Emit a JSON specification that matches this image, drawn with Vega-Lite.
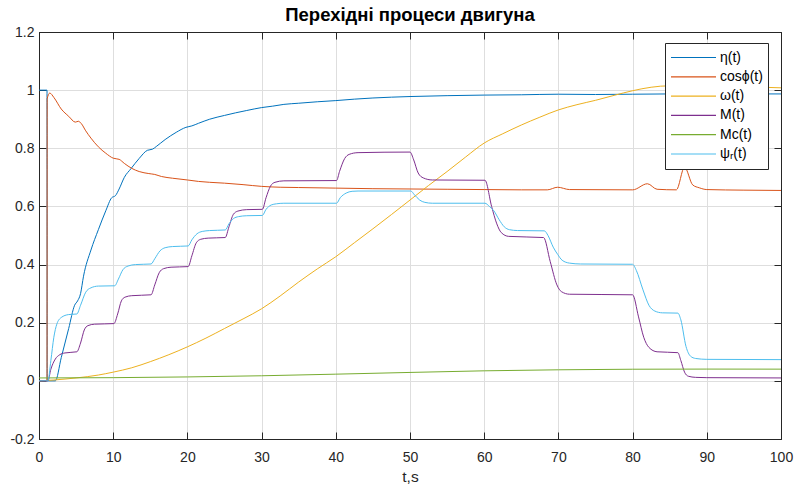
{
  "$schema": "https://vega.github.io/schema/vega-lite/v6.json",
  "width": 742,
  "height": 407,
  "autosize": {"type": "none"},
  "padding": {"left": 39, "top": 32, "right": 14, "bottom": 49},
  "background": "white",
  "title": {"text": "Перехідні процеси двигуна", "font": "Liberation Sans", "fontSize": 18.5, "fontWeight": "bold", "color": "#000000", "offset": 1, "anchor": "middle", "frame": "group"},
  "config": {
    "view": {"stroke": "#262626", "strokeWidth": 1},
    "axis": {"labelFont": "Liberation Sans", "labelFontSize": 14, "labelColor": "#262626", "titleFont": "Liberation Sans", "titleFontSize": 15.5, "titleFontWeight": "normal", "titleColor": "#262626", "domainColor": "#262626", "tickColor": "#262626", "gridColor": "#dedede", "gridWidth": 1, "labelFlush": false, "labelOverlap": false}
  },
  "datasets": {
    "d": [
      {"s":"η(t)","t":0,"v":1},{"s":"η(t)","t":1.08,"v":1},{"s":"η(t)","t":1.1,"v":0},{"s":"η(t)","t":2.2,"v":0},{"s":"η(t)","t":3,"v":0.08},{"s":"η(t)","t":4,"v":0.18},{"s":"η(t)","t":4.8,"v":0.26},{"s":"η(t)","t":5.2,"v":0.275},{"s":"η(t)","t":5.6,"v":0.3},{"s":"η(t)","t":6,"v":0.36},{"s":"η(t)","t":7,"v":0.45},{"s":"η(t)","t":8,"v":0.52},{"s":"η(t)","t":9,"v":0.585},{"s":"η(t)","t":9.8,"v":0.63},{"s":"η(t)","t":10.3,"v":0.637},{"s":"η(t)","t":10.8,"v":0.66},{"s":"η(t)","t":11.5,"v":0.7},{"s":"η(t)","t":12.4,"v":0.73},{"s":"η(t)","t":13.5,"v":0.765},{"s":"η(t)","t":14.6,"v":0.793},{"s":"η(t)","t":15.3,"v":0.797},{"s":"η(t)","t":15.8,"v":0.806},{"s":"η(t)","t":17,"v":0.83},{"s":"η(t)","t":18.5,"v":0.855},{"s":"η(t)","t":19.8,"v":0.872},{"s":"η(t)","t":20.6,"v":0.877},{"s":"η(t)","t":21.5,"v":0.886},{"s":"η(t)","t":23,"v":0.9},{"s":"η(t)","t":25,"v":0.913},{"s":"η(t)","t":26.5,"v":0.922},{"s":"η(t)","t":28,"v":0.93},{"s":"η(t)","t":30,"v":0.94},{"s":"η(t)","t":31.5,"v":0.945},{"s":"η(t)","t":33,"v":0.951},{"s":"η(t)","t":35,"v":0.955},{"s":"η(t)","t":37.5,"v":0.96},{"s":"η(t)","t":40,"v":0.964},{"s":"η(t)","t":42.5,"v":0.969},{"s":"η(t)","t":45,"v":0.973},{"s":"η(t)","t":50,"v":0.978},{"s":"η(t)","t":55,"v":0.981},{"s":"η(t)","t":60,"v":0.983},{"s":"η(t)","t":65,"v":0.984},{"s":"η(t)","t":70,"v":0.986},{"s":"η(t)","t":75,"v":0.985},{"s":"η(t)","t":80,"v":0.986},{"s":"η(t)","t":85,"v":0.987},{"s":"η(t)","t":90,"v":0.988},{"s":"η(t)","t":95,"v":0.987},{"s":"η(t)","t":100,"v":0.987},

      {"s":"cosϕ(t)","t":0,"v":0},{"s":"cosϕ(t)","t":1.08,"v":0},{"s":"cosϕ(t)","t":1.1,"v":0.97},{"s":"cosϕ(t)","t":1.45,"v":0.99},{"s":"cosϕ(t)","t":2,"v":0.975},{"s":"cosϕ(t)","t":3,"v":0.935},{"s":"cosϕ(t)","t":4,"v":0.91},{"s":"cosϕ(t)","t":4.9,"v":0.89},{"s":"cosϕ(t)","t":5.3,"v":0.893},{"s":"cosϕ(t)","t":5.7,"v":0.885},{"s":"cosϕ(t)","t":6.3,"v":0.86},{"s":"cosϕ(t)","t":7,"v":0.835},{"s":"cosϕ(t)","t":8,"v":0.805},{"s":"cosϕ(t)","t":9,"v":0.783},{"s":"cosϕ(t)","t":10,"v":0.766},{"s":"cosϕ(t)","t":10.8,"v":0.762},{"s":"cosϕ(t)","t":11.5,"v":0.748},{"s":"cosϕ(t)","t":12.5,"v":0.731},{"s":"cosϕ(t)","t":13.5,"v":0.72},{"s":"cosϕ(t)","t":14.8,"v":0.713},{"s":"cosϕ(t)","t":15.6,"v":0.71},{"s":"cosϕ(t)","t":16.5,"v":0.703},{"s":"cosϕ(t)","t":18,"v":0.697},{"s":"cosϕ(t)","t":20,"v":0.691},{"s":"cosϕ(t)","t":21.5,"v":0.686},{"s":"cosϕ(t)","t":23,"v":0.683},{"s":"cosϕ(t)","t":25,"v":0.68},{"s":"cosϕ(t)","t":27.5,"v":0.675},{"s":"cosϕ(t)","t":30,"v":0.669},{"s":"cosϕ(t)","t":32.5,"v":0.666},{"s":"cosϕ(t)","t":35,"v":0.665},{"s":"cosϕ(t)","t":40,"v":0.663},{"s":"cosϕ(t)","t":45,"v":0.661},{"s":"cosϕ(t)","t":50,"v":0.66},{"s":"cosϕ(t)","t":55,"v":0.659},{"s":"cosϕ(t)","t":60,"v":0.658},{"s":"cosϕ(t)","t":65,"v":0.657},{"s":"cosϕ(t)","t":68.5,"v":0.657},{"s":"cosϕ(t)","t":69.9,"v":0.666},{"s":"cosϕ(t)","t":71.5,"v":0.658},{"s":"cosϕ(t)","t":80,"v":0.657},{"s":"cosϕ(t)","t":82,"v":0.678},{"s":"cosϕ(t)","t":83.3,"v":0.659},{"s":"cosϕ(t)","t":85.9,"v":0.657},{"s":"cosϕ(t)","t":87,"v":0.735},{"s":"cosϕ(t)","t":88.1,"v":0.674},{"s":"cosϕ(t)","t":89,"v":0.664},{"s":"cosϕ(t)","t":90,"v":0.658},{"s":"cosϕ(t)","t":95,"v":0.656},{"s":"cosϕ(t)","t":100,"v":0.655},

      {"s":"ω(t)","t":0,"v":0},{"s":"ω(t)","t":2,"v":0.003},{"s":"ω(t)","t":5,"v":0.01},{"s":"ω(t)","t":8,"v":0.02},{"s":"ω(t)","t":10,"v":0.03},{"s":"ω(t)","t":12.5,"v":0.045},{"s":"ω(t)","t":15,"v":0.066},{"s":"ω(t)","t":17.5,"v":0.09},{"s":"ω(t)","t":20,"v":0.117},{"s":"ω(t)","t":22.5,"v":0.147},{"s":"ω(t)","t":25,"v":0.18},{"s":"ω(t)","t":27.5,"v":0.213},{"s":"ω(t)","t":30,"v":0.248},{"s":"ω(t)","t":32.5,"v":0.292},{"s":"ω(t)","t":35,"v":0.34},{"s":"ω(t)","t":37.5,"v":0.385},{"s":"ω(t)","t":40,"v":0.427},{"s":"ω(t)","t":42.5,"v":0.475},{"s":"ω(t)","t":45,"v":0.523},{"s":"ω(t)","t":47.5,"v":0.572},{"s":"ω(t)","t":50,"v":0.622},{"s":"ω(t)","t":52.5,"v":0.672},{"s":"ω(t)","t":55,"v":0.72},{"s":"ω(t)","t":57.5,"v":0.77},{"s":"ω(t)","t":60,"v":0.818},{"s":"ω(t)","t":62.5,"v":0.85},{"s":"ω(t)","t":65,"v":0.88},{"s":"ω(t)","t":67.5,"v":0.907},{"s":"ω(t)","t":70,"v":0.932},{"s":"ω(t)","t":72.5,"v":0.95},{"s":"ω(t)","t":75,"v":0.965},{"s":"ω(t)","t":77.5,"v":0.982},{"s":"ω(t)","t":80,"v":0.998},{"s":"ω(t)","t":82.5,"v":1.01},{"s":"ω(t)","t":85,"v":1.015},{"s":"ω(t)","t":90,"v":1.015},{"s":"ω(t)","t":95,"v":1.012},{"s":"ω(t)","t":100,"v":1.008},

      {"s":"M(t)","t":0,"v":0},{"s":"M(t)","t":1.2,"v":0},{"s":"M(t)","t":1.6,"v":0.04},{"s":"M(t)","t":2.2,"v":0.075},{"s":"M(t)","t":2.8,"v":0.09},{"s":"M(t)","t":3.5,"v":0.096},{"s":"M(t)","t":5.1,"v":0.1},{"s":"M(t)","t":5.6,"v":0.13},{"s":"M(t)","t":6.1,"v":0.175},{"s":"M(t)","t":6.6,"v":0.19},{"s":"M(t)","t":7.5,"v":0.195},{"s":"M(t)","t":10.1,"v":0.197},{"s":"M(t)","t":10.6,"v":0.23},{"s":"M(t)","t":11.1,"v":0.275},{"s":"M(t)","t":11.6,"v":0.288},{"s":"M(t)","t":12.5,"v":0.293},{"s":"M(t)","t":15.1,"v":0.296},{"s":"M(t)","t":15.6,"v":0.33},{"s":"M(t)","t":16.2,"v":0.372},{"s":"M(t)","t":16.8,"v":0.386},{"s":"M(t)","t":17.8,"v":0.391},{"s":"M(t)","t":20.1,"v":0.393},{"s":"M(t)","t":20.6,"v":0.43},{"s":"M(t)","t":21.2,"v":0.475},{"s":"M(t)","t":21.8,"v":0.487},{"s":"M(t)","t":22.8,"v":0.491},{"s":"M(t)","t":25.1,"v":0.493},{"s":"M(t)","t":25.6,"v":0.53},{"s":"M(t)","t":26.2,"v":0.573},{"s":"M(t)","t":26.8,"v":0.584},{"s":"M(t)","t":28,"v":0.589},{"s":"M(t)","t":30.1,"v":0.59},{"s":"M(t)","t":30.6,"v":0.63},{"s":"M(t)","t":31.2,"v":0.67},{"s":"M(t)","t":31.8,"v":0.683},{"s":"M(t)","t":33,"v":0.688},{"s":"M(t)","t":40.1,"v":0.689},{"s":"M(t)","t":40.5,"v":0.72},{"s":"M(t)","t":41.2,"v":0.765},{"s":"M(t)","t":41.8,"v":0.779},{"s":"M(t)","t":43,"v":0.785},{"s":"M(t)","t":50,"v":0.787},{"s":"M(t)","t":50.5,"v":0.76},{"s":"M(t)","t":51.1,"v":0.715},{"s":"M(t)","t":51.8,"v":0.698},{"s":"M(t)","t":53,"v":0.691},{"s":"M(t)","t":60.1,"v":0.69},{"s":"M(t)","t":61,"v":0.6},{"s":"M(t)","t":61.7,"v":0.54},{"s":"M(t)","t":62.3,"v":0.51},{"s":"M(t)","t":63.3,"v":0.497},{"s":"M(t)","t":68,"v":0.493},{"s":"M(t)","t":68.9,"v":0.41},{"s":"M(t)","t":69.8,"v":0.33},{"s":"M(t)","t":70.4,"v":0.307},{"s":"M(t)","t":71.5,"v":0.298},{"s":"M(t)","t":80,"v":0.296},{"s":"M(t)","t":80.8,"v":0.22},{"s":"M(t)","t":81.5,"v":0.15},{"s":"M(t)","t":82.2,"v":0.115},{"s":"M(t)","t":83.3,"v":0.1},{"s":"M(t)","t":86.1,"v":0.097},{"s":"M(t)","t":86.5,"v":0.07},{"s":"M(t)","t":87,"v":0.03},{"s":"M(t)","t":87.5,"v":0.016},{"s":"M(t)","t":88.5,"v":0.012},{"s":"M(t)","t":90,"v":0.011},{"s":"M(t)","t":100,"v":0.01},

      {"s":"Mc(t)","t":0,"v":0.01},{"s":"Mc(t)","t":10,"v":0.011},{"s":"Mc(t)","t":20,"v":0.0135},{"s":"Mc(t)","t":30,"v":0.0175},{"s":"Mc(t)","t":40,"v":0.023},{"s":"Mc(t)","t":50,"v":0.029},{"s":"Mc(t)","t":60,"v":0.0345},{"s":"Mc(t)","t":70,"v":0.038},{"s":"Mc(t)","t":80,"v":0.04},{"s":"Mc(t)","t":90,"v":0.0405},{"s":"Mc(t)","t":100,"v":0.0403},

      {"s":"ψᵣ(t)","t":0,"v":0},{"s":"ψᵣ(t)","t":1.2,"v":0},{"s":"ψᵣ(t)","t":1.6,"v":0.07},{"s":"ψᵣ(t)","t":2,"v":0.15},{"s":"ψᵣ(t)","t":2.4,"v":0.195},{"s":"ψᵣ(t)","t":3,"v":0.218},{"s":"ψᵣ(t)","t":4,"v":0.228},{"s":"ψᵣ(t)","t":5.1,"v":0.23},{"s":"ψᵣ(t)","t":5.6,"v":0.26},{"s":"ψᵣ(t)","t":6.3,"v":0.305},{"s":"ψᵣ(t)","t":7,"v":0.32},{"s":"ψᵣ(t)","t":8,"v":0.326},{"s":"ψᵣ(t)","t":10.2,"v":0.327},{"s":"ψᵣ(t)","t":10.7,"v":0.35},{"s":"ψᵣ(t)","t":11.3,"v":0.382},{"s":"ψᵣ(t)","t":12,"v":0.395},{"s":"ψᵣ(t)","t":13,"v":0.4},{"s":"ψᵣ(t)","t":15.1,"v":0.402},{"s":"ψᵣ(t)","t":15.6,"v":0.42},{"s":"ψᵣ(t)","t":16.3,"v":0.447},{"s":"ψᵣ(t)","t":17,"v":0.458},{"s":"ψᵣ(t)","t":18,"v":0.462},{"s":"ψᵣ(t)","t":20.1,"v":0.464},{"s":"ψᵣ(t)","t":20.6,"v":0.485},{"s":"ψᵣ(t)","t":21.3,"v":0.506},{"s":"ψᵣ(t)","t":22,"v":0.514},{"s":"ψᵣ(t)","t":23,"v":0.517},{"s":"ψᵣ(t)","t":25.1,"v":0.519},{"s":"ψᵣ(t)","t":25.6,"v":0.54},{"s":"ψᵣ(t)","t":26.2,"v":0.558},{"s":"ψᵣ(t)","t":26.9,"v":0.565},{"s":"ψᵣ(t)","t":28,"v":0.568},{"s":"ψᵣ(t)","t":30.1,"v":0.569},{"s":"ψᵣ(t)","t":30.6,"v":0.59},{"s":"ψᵣ(t)","t":31.3,"v":0.605},{"s":"ψᵣ(t)","t":32,"v":0.609},{"s":"ψᵣ(t)","t":33,"v":0.611},{"s":"ψᵣ(t)","t":40.1,"v":0.611},{"s":"ψᵣ(t)","t":40.6,"v":0.63},{"s":"ψᵣ(t)","t":41.4,"v":0.646},{"s":"ψᵣ(t)","t":42.2,"v":0.652},{"s":"ψᵣ(t)","t":43,"v":0.653},{"s":"ψᵣ(t)","t":50.1,"v":0.653},{"s":"ψᵣ(t)","t":50.6,"v":0.64},{"s":"ψᵣ(t)","t":51.3,"v":0.622},{"s":"ψᵣ(t)","t":52,"v":0.614},{"s":"ψᵣ(t)","t":53,"v":0.611},{"s":"ψᵣ(t)","t":60.1,"v":0.611},{"s":"ψᵣ(t)","t":60.7,"v":0.6},{"s":"ψᵣ(t)","t":61.3,"v":0.585},{"s":"ψᵣ(t)","t":62,"v":0.555},{"s":"ψᵣ(t)","t":62.7,"v":0.53},{"s":"ψᵣ(t)","t":63.4,"v":0.52},{"s":"ψᵣ(t)","t":64.5,"v":0.517},{"s":"ψᵣ(t)","t":68.1,"v":0.516},{"s":"ψᵣ(t)","t":68.6,"v":0.5},{"s":"ψᵣ(t)","t":69.3,"v":0.46},{"s":"ψᵣ(t)","t":69.9,"v":0.435},{"s":"ψᵣ(t)","t":70.5,"v":0.415},{"s":"ψᵣ(t)","t":71.5,"v":0.405},{"s":"ψᵣ(t)","t":73,"v":0.402},{"s":"ψᵣ(t)","t":80,"v":0.401},{"s":"ψᵣ(t)","t":80.5,"v":0.38},{"s":"ψᵣ(t)","t":81.4,"v":0.313},{"s":"ψᵣ(t)","t":82.2,"v":0.26},{"s":"ψᵣ(t)","t":83,"v":0.24},{"s":"ψᵣ(t)","t":84,"v":0.234},{"s":"ψᵣ(t)","t":86.1,"v":0.233},{"s":"ψᵣ(t)","t":86.5,"v":0.21},{"s":"ψᵣ(t)","t":87.2,"v":0.118},{"s":"ψᵣ(t)","t":87.8,"v":0.085},{"s":"ψᵣ(t)","t":88.5,"v":0.077},{"s":"ψᵣ(t)","t":90,"v":0.074},{"s":"ψᵣ(t)","t":100,"v":0.073}
    ]
  },
  "data": {"name": "d"},
  "resolve": {"axis": {"x": "independent", "y": "independent"}},
  "layer": [
    {
      "mark": {"type": "line", "strokeWidth": 1, "interpolate": "monotone", "clip": true},
      "encoding": {
        "x": {"field": "t", "type": "quantitative", "scale": {"domain": [0, 100], "nice": false, "zero": false},
              "axis": {"orient": "bottom", "title": "t,s", "values": [0,10,20,30,40,50,60,70,80,90,100], "grid": true, "tickSize": -7, "labelPadding": 18, "titlePadding": 5, "domain": true}},
        "y": {"field": "v", "type": "quantitative", "scale": {"domain": [-0.2, 1.2], "nice": false, "zero": false},
              "axis": {"orient": "left", "title": null, "values": [-0.2,0,0.2,0.4,0.6,0.8,1,1.2], "grid": true, "tickSize": -7, "labelPadding": 12, "labelExpr": "datum.value < 0 ? '-0.2' : format(datum.value, '~g')"}},
        "color": {"field": "s", "type": "nominal", "sort": null,
                  "scale": {"domain": ["η(t)", "cosϕ(t)", "ω(t)", "M(t)", "Mc(t)", "ψᵣ(t)"], "range": ["#0072BD", "#D95319", "#EDB120", "#7E2F8E", "#77AC30", "#4DBEEE"]},
                  "legend": {"title": null, "orient": "none", "legendX": 626, "legendY": 11, "strokeColor": "#262626", "fillColor": "#ffffff", "padding": 5, "symbolType": "stroke", "symbolSize": 2025, "symbolStrokeWidth": 1.2, "clipHeight": 19, "rowPadding": 0.3, "labelFont": "Liberation Sans", "labelFontSize": 14, "labelColor": "#000000", "labelOffset": 3}}
      }
    },
    {
      "mark": {"type": "line", "strokeOpacity": 0},
      "encoding": {
        "x": {"field": "t", "type": "quantitative", "axis": {"orient": "top", "title": null, "labels": false, "grid": false, "tickSize": -7, "values": [0,10,20,30,40,50,60,70,80,90,100]}},
        "y": {"field": "v", "type": "quantitative", "axis": {"orient": "right", "title": null, "labels": false, "grid": false, "tickSize": -7, "values": [-0.2,0,0.2,0.4,0.6,0.8,1,1.2]}},
        "detail": {"field": "s"}
      }
    }
  ]
}
